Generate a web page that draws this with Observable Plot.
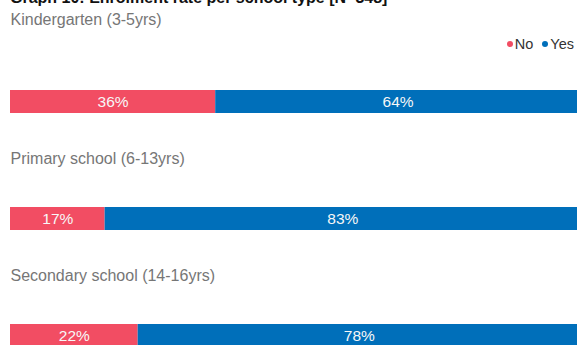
<!DOCTYPE html>
<html>
<head>
<meta charset="utf-8">
<script src="https://cdn.jsdelivr.net/npm/d3@7"></script>
<script src="https://cdn.jsdelivr.net/npm/@observablehq/plot@0.6"></script>
<style>
  html, body { margin: 0; padding: 0; background: #fff; overflow: hidden; width: 577px; height: 345px; }
  body { position: relative; font-family: "Liberation Sans", Arial, sans-serif; }
  #title { position: absolute; left: 10px; top: -10px; font-size: 16px; font-weight: bold; color: #111; line-height: 16px; white-space: nowrap; }
  #legend { position: absolute; right: 3px; top: 36px; font-size: 14.5px; color: #333; display: flex; align-items: center; line-height: 16px; }
  #legend .item { display: flex; align-items: center; margin-left: 9px; }
  #legend .dot { width: 6px; height: 6px; border-radius: 50%; margin-right: 2px; display: inline-block; }
  #chart { position: absolute; left: 0; top: 0; }
</style>
</head>
<body>
<div id="title"></div>
<div id="legend"></div>
<div id="chart"></div>
<script>
const titleText = "Graph 10: Enrolment rate per school type [N=348]";
const schools = ["Kindergarten (3-5yrs)", "Primary school (6-13yrs)", "Secondary school (14-16yrs)"];
const responses = ["No", "Yes"];
const colors = ["#F24D63", "#006FBA"];
const noValues = [36, 16.6, 22.4];
const yesValues = [64, 83.4, 77.6];

document.getElementById("title").textContent = titleText;
const legend = document.getElementById("legend");
responses.forEach((r, i) => {
  const item = document.createElement("span");
  item.className = "item";
  const dot = document.createElement("span");
  dot.className = "dot";
  dot.style.background = colors[i];
  const label = document.createElement("span");
  label.textContent = r;
  item.appendChild(dot);
  item.appendChild(label);
  legend.appendChild(item);
});

const data = [];
schools.forEach((s, i) => {
  data.push({school: s, response: "No", value: noValues[i]});
  data.push({school: s, response: "Yes", value: yesValues[i]});
});

const plot = Plot.plot({
  width: 577,
  height: 360,
  marginLeft: 0, marginRight: 0, marginTop: 0, marginBottom: 0,
  style: {fontFamily: "Liberation Sans, Arial, sans-serif", fontSize: "14px", overflow: "hidden"},
  x: {domain: [0, 100], range: [10, 580], axis: null},
  y: {domain: schools, range: [89, 348], paddingInner: 0.805, paddingOuter: 0, align: 0.5, axis: null},
  color: {domain: responses, range: colors},
  marks: [
    Plot.barX(data, {x: "value", y: "school", fill: "response", order: responses}),
    Plot.text(data, Plot.stackX({
      x: "value", y: "school", z: "response", order: responses,
      text: d => Math.round(d.value) + "%",
      fill: "#f7f7f7", fontSize: 15.5
    })),
    Plot.text(schools.slice(0, 1), {
      x: () => 0, y: d => d, text: d => d, textAnchor: "start",
      dy: -82.5, fill: "#767676", fontSize: 16
    }),
    Plot.text(schools.slice(1), {
      x: () => 0, y: d => d, text: d => d, textAnchor: "start",
      dy: -60, fill: "#767676", fontSize: 16
    })
  ]
});
document.getElementById("chart").appendChild(plot);
</script>
</body>
</html>
